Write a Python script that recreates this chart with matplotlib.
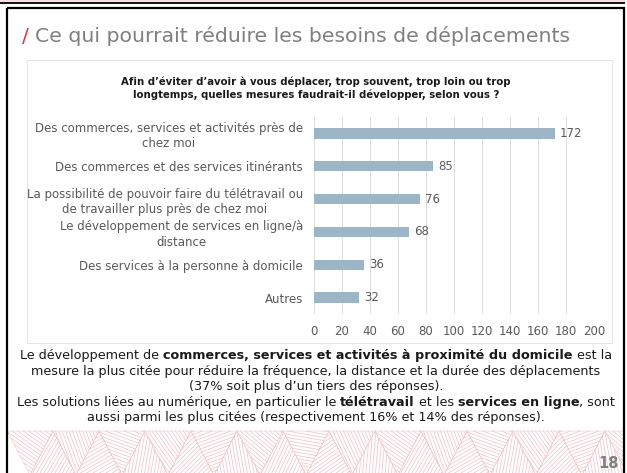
import matplotlib
matplotlib.use("Agg")
import matplotlib.pyplot as plt
import numpy as np
from matplotlib.patches import Rectangle, Polygon
from matplotlib.collections import LineCollection

# ---------------- data ----------------
categories = [
    "Des commerces, services et activités près de\nchez moi",
    "Des commerces et des services itinérants",
    "La possibilité de pouvoir faire du télétravail ou\nde travailler plus près de chez moi",
    "Le développement de services en ligne/à\ndistance",
    "Des services à la personne à domicile",
    "Autres",
]
values = [172, 85, 76, 68, 36, 32]
xticks = [0, 20, 40, 60, 80, 100, 120, 140, 160, 180, 200]

slide_title = "Ce qui pourrait réduire les besoins de déplacements"
chart_title = ("Afin d’éviter d’avoir à vous déplacer, trop souvent, trop loin ou trop\n"
               "longtemps, quelles mesures faudrait-il développer, selon vous ?")
summary_lines = [
    [("Le développement de ", False), ("commerces, services et activités à proximité du domicile", True), (" est la", False)],
    [("mesure la plus citée pour réduire la fréquence, la distance et la durée des déplacements", False)],
    [("(37% soit plus d’un tiers des réponses).", False)],
    [("Les solutions liées au numérique, en particulier le ", False), ("télétravail", True),
     (" et les ", False), ("services en ligne", True), (", sont", False)],
    [("aussi parmi les plus citées (respectivement 16% et 14% des réponses).", False)],
]
page_number = "18"

# ---------------- figure ----------------
W, H = 627, 473
DPI = 100
plt.rcParams['font.family'] = ['DejaVu Sans']
fig = plt.figure(figsize=(W / DPI, H / DPI), dpi=DPI)
fig.patch.set_facecolor("white")

bg = fig.add_axes([0, 0, 1, 1])
bg.set_xlim(0, W)
bg.set_ylim(H, 0)
bg.axis("off")

TEXT = "#595959"
PINK = "#f0c6ca"

# top strip (bottom of previous slide)
bg.add_patch(Rectangle((0, 0), W, 3, facecolor="#f7dfe1", edgecolor="none"))
bg.plot([0, W], [3.2, 3.2], color="black", lw=1.3)

# decorative hatched triangles at bottom
y0, y1 = 431, 475
step = 46
tops = [7 + k * step for k in range(16)]
bots = [7 + step / 2 + k * step - step for k in range(17)]
angles = [35, 120, 70, 150, 20, 100, 55, 135, 160, 80, 40, 115, 10, 145, 65, 95]
tris = []
for k in range(15):
    tris.append([(tops[k], y0), (tops[k + 1], y0), (bots[k + 1], y1)])
    tris.append([(bots[k + 1], y1), (bots[k + 2], y1), (tops[k + 1], y0)])
for i, tri in enumerate(tris):
    ang = np.deg2rad(angles[i % len(angles)])
    d = np.array([np.cos(ang), np.sin(ang)])
    nrm = np.array([-d[1], d[0]])
    c = np.mean(np.array(tri), axis=0)
    segs = []
    for off in np.arange(-40, 41, 3.2):
        p = c + nrm * off
        segs.append([p - d * 60, p + d * 60])
    lc = LineCollection(segs, colors=PINK, linewidths=0.55, zorder=1)
    poly = Polygon(tri, closed=True, facecolor="none", edgecolor=PINK, lw=0.4, zorder=1)
    bg.add_patch(poly)
    bg.add_collection(lc)
    lc.set_clip_path(poly)

# slide border
bg.add_patch(Rectangle((7, 8.5), 617, 470, facecolor="none", edgecolor="black", lw=1.6, zorder=5))
bg.add_patch(Rectangle((624.8, 0), 5, H, facecolor="white", edgecolor="none", zorder=4))

# chart box
bg.add_patch(Rectangle((27, 60), 585, 283, facecolor="white", edgecolor="#e6e6e6", lw=0.8, zorder=3))

fig.canvas.draw()
renderer = fig.canvas.get_renderer()

def text_width(s, size, weight="normal"):
    t = bg.text(0, 0, "x" + s + "x", fontsize=size, fontweight=weight)
    t2 = bg.text(0, 0, "xx", fontsize=size, fontweight=weight)
    w = t.get_window_extent(renderer).width - t2.get_window_extent(renderer).width
    t.remove(); t2.remove()
    return w

def fit_size(s, target, weight="normal"):
    return 10 * target / text_width(s, 10, weight)

def line_width(line, size):
    return sum(text_width(s, size, "bold" if b else "normal") for s, b in line)

# slide title
ts = fit_size(slide_title, 532)
bg.text(22, 36, "/", fontsize=ts, color="#d9394a", va="center", ha="left", zorder=6)
bg.text(35, 36, slide_title, fontsize=ts, color="#808080", va="center", ha="left", zorder=6)

# chart title
cs = fit_size(chart_title.split("\n")[0], 390, "bold")
bg.text(316, 88, chart_title, fontsize=cs, fontweight="bold", color="#1a1a1a",
        ha="center", va="center", linespacing=1.35, zorder=6)

# summary text
targets = [590, 614, 290, 596, 510]
ss = min(10 * t / line_width(l, 10) for l, t in zip(summary_lines, targets))
ys = [355, 371, 386, 402, 417]
for line, y in zip(summary_lines, ys):
    widths = [text_width(s, ss, "bold" if b else "normal") for s, b in line]
    x = 316 - sum(widths) / 2
    for (s, b), w in zip(line, widths):
        bg.text(x, y, s, fontsize=ss, fontweight="bold" if b else "normal",
                color="#1a1a1a", ha="left", va="center", zorder=6)
        x += w

bg.text(619, 463, page_number, fontsize=10.5, fontweight="bold", color="#808080",
        ha="right", va="center", zorder=6)

# ---------------- bar chart ----------------
left, right = 314, 594
top, bottom = 117, 314
ax = fig.add_axes([left / W, 1 - bottom / H, (right - left) / W, (bottom - top) / H])
ax.set_zorder(4)
ax.patch.set_alpha(0)
ypos = np.arange(len(categories))
ax.barh(ypos, values, height=0.31, color="#9db6c7", zorder=3)
ax.set_xlim(0, 200)
ax.set_ylim(len(categories) - 0.5, -0.5)
ax.set_xticks(xticks)
ax.xaxis.grid(True, color="#dedede", lw=0.8, zorder=0)
for s in ax.spines.values():
    s.set_visible(False)
ax.tick_params(axis="both", length=0, colors=TEXT)
ls = fit_size(categories[0].split("\n")[0], 265)
ax.set_xticklabels([str(t) for t in xticks], fontsize=ls)
ax.tick_params(axis="x", pad=8)
ax.set_yticks(ypos)
ax.set_yticklabels(categories, fontsize=ls, color=TEXT, multialignment="center",
                   linespacing=1.25)
ax.tick_params(axis="y", pad=8)
for y, v in zip(ypos, values):
    ax.text(v + 3.5, y, str(v), va="center", ha="left", fontsize=ls, color=TEXT)

fig.savefig("out.png", dpi=DPI)
